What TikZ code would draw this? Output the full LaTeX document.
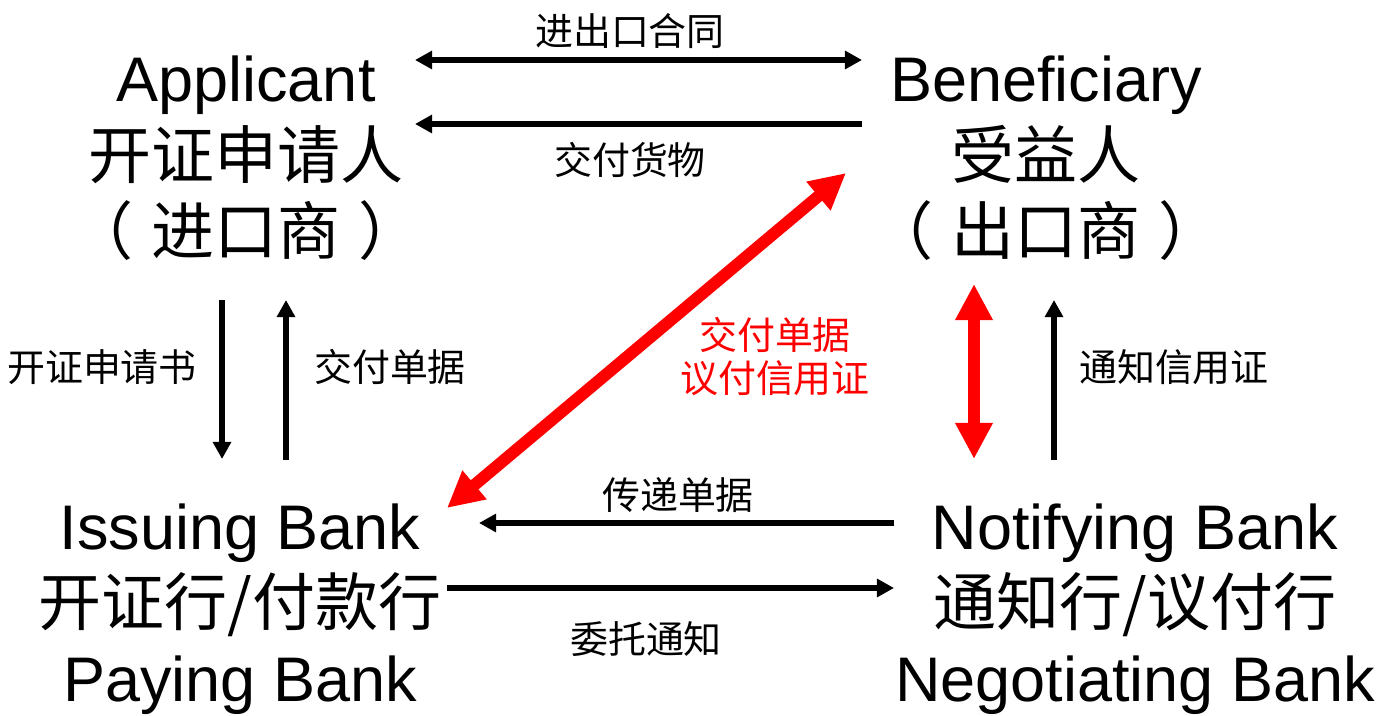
\documentclass[tikz,border=0pt]{standalone}
\usepackage{fontspec}
\setmainfont{Liberation Sans}
\newfontfamily\cjk{Noto Sans CJK SC}
\usetikzlibrary{arrows.meta}
\tikzset{
 party/.style = {anchor=north, inner sep=0pt, align=center,
   font=\fontsize{35.85pt}{43.5pt}\selectfont},
 flowtext/.style = {inner sep=0pt, align=center,
   font=\cjk\fontsize{21.6pt}{24.5pt}\selectfont},
 flow/.style = {line width=3.4pt, -{Triangle[length=9.7pt,width=10pt]}},
 flowboth/.style = {flow, {Triangle[length=9.7pt,width=10pt]}-{Triangle[length=9.7pt,width=10pt]}},
 redflow/.style = {red, line width=6.8pt,
   {Triangle[length=20.5pt,width=20pt]}-{Triangle[length=20.5pt,width=20pt]}}
}
\newcommand{\paren}[1]{（\hspace{0.28em}#1\hspace{0.28em}）}

\begin{document}
\begin{tikzpicture}[x=0.2mm, y=-0.2mm]
    \useasboundingbox (0,0) rectangle (1379,716);

    % the four parties
    \node[party] (app) at (246,56) {Applicant\\{\cjk 开证申请人}\\{\cjk \paren{进口商}}};
    \node[party] (ben) at (1046,56) {Beneficiary\\{\cjk 受益人}\\{\cjk \paren{出口商}}};
    \node[party] (iss) at (240,503) {Issuing Bank\\{\cjk 开证行/付款行}\\Paying Bank};
    \node[party] (ntf) at (1135,503) {Notifying Bank\\{\cjk 通知行/议付行}\\Negotiating Bank};

    % arrow ends
    \coordinate (contractL) at (415,60);
    \coordinate (contractR) at (862,60);
    \coordinate (goodsS) at (862,124);
    \coordinate (goodsE) at (415,124);
    \coordinate (applyS) at (222,300);
    \coordinate (applyE) at (222,459);
    \coordinate (docsS) at (286,460);
    \coordinate (docsE) at (286,300);
    \coordinate (negoL) at (447,508);
    \coordinate (negoR) at (846,173);
    \coordinate (advU) at (974,284);
    \coordinate (advD) at (974,459);
    \coordinate (noticeS) at (1054,460);
    \coordinate (noticeE) at (1054,300);
    \coordinate (passS) at (894,523);
    \coordinate (passE) at (479,523);
    \coordinate (entrustS) at (447,588);
    \coordinate (entrustE) at (894,588);

    \draw[flowboth] (contractL) -- (contractR);
    \draw[flow] (goodsS) -- (goodsE);
    \draw[flow] (applyS) -- (applyE);
    \draw[flow] (docsS) -- (docsE);
    \draw[flow] (noticeS) -- (noticeE);
    \draw[flow] (passS) -- (passE);
    \draw[flow] (entrustS) -- (entrustE);
    \draw[redflow] (negoL) -- (negoR);
    \draw[redflow] (advU) -- (advD);

    % labels
    \node[flowtext] (contractT) at (630,31) {进出口合同};
    \node[flowtext] (goodsT) at (630,160) {交付货物};
    \node[flowtext] (applyT) at (102,367) {开证申请书};
    \node[flowtext] (docsT) at (390,367) {交付单据};
    \node[flowtext, red] (negoT) at (775,357) {交付单据\\议付信用证};
    \node[flowtext] (noticeT) at (1174,367) {通知信用证};
    \node[flowtext] (passT) at (678,495) {传递单据};
    \node[flowtext] (entrustT) at (646,639) {委托通知};
\end{tikzpicture}
\end{document}
